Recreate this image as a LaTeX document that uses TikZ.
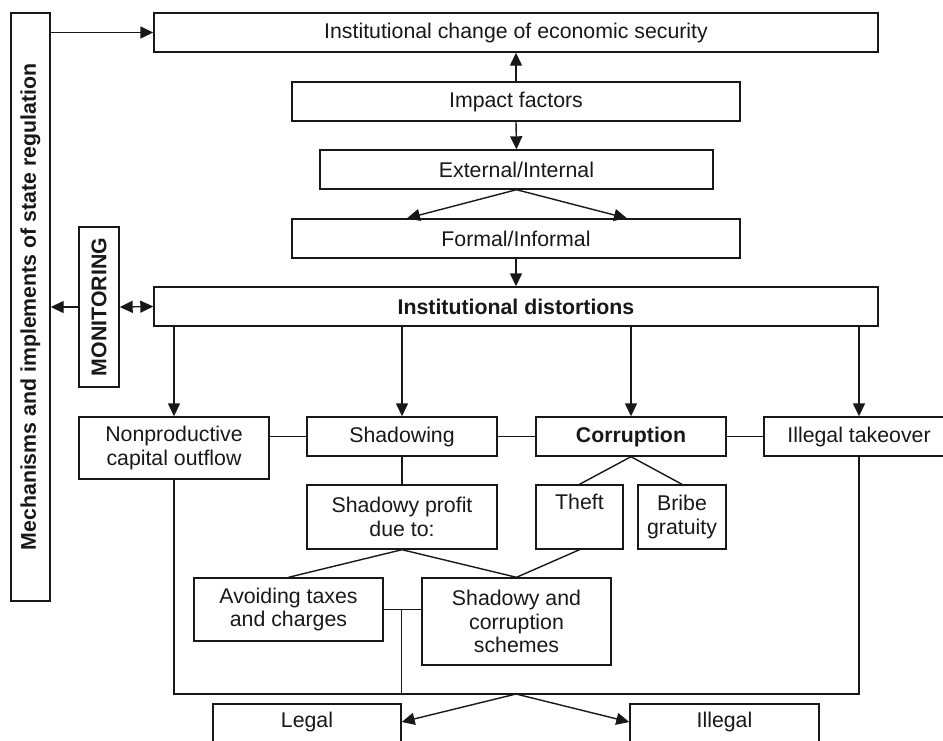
\documentclass[tikz,border=0pt]{standalone}
\usepackage{fontspec}
\setmainfont{Liberation Sans}
\usetikzlibrary{arrows.meta,calc}
\definecolor{ink}{HTML}{1A1718}
\begin{document}
\begin{tikzpicture}[x=1pt,y=-1pt,
  every node/.style={font=\fontsize{21.3}{23.5}\selectfont, text=ink},
  bx/.style={draw=ink, line width=1.4pt, inner sep=0pt, align=center},
  ln/.style={draw=ink, line width=1.4pt},
  tip/.tip={Triangle[length=13pt,width=12pt]},
  arr/.style={ln, -tip},
  darr/.style={ln, tip-tip}]
\useasboundingbox (0,0) rectangle (943,740);
\clip (0,0) rectangle (943,740);
% boxes
\node[bx, rotate=90, minimum width=588, minimum height=39, font=\fontsize{21.3}{23.5}\selectfont\bfseries] (mech) at (30.5,307) {Mechanisms and implements of state regulation};
\node[bx, minimum width=724, minimum height=39] (top) at (516,32.5) {Institutional change of economic security};
\node[bx, minimum width=448, minimum height=39] (impact) at (516,101.5) {Impact factors};
\node[bx, minimum width=393, minimum height=39] (ext) at (516.5,169.5) {External/Internal};
\node[bx, minimum width=448, minimum height=39] (formal) at (516,238.5) {Formal/Informal};
\node[bx, minimum width=724, minimum height=39, font=\fontsize{21.3}{23.5}\selectfont\bfseries] (dist) at (516,306.5) {Institutional distortions};
\node[bx, rotate=90, minimum width=160, minimum height=40, font=\fontsize{21.3}{23.5}\selectfont\bfseries] (mon) at (99,307) {MONITORING};
\node[bx, minimum width=190, minimum height=62] (nonprod) at (174,448) {Nonproductive\\capital outflow};
\node[bx, minimum width=190, minimum height=39] (shad) at (402,436.5) {Shadowing};
\node[bx, minimum width=190, minimum height=39, font=\fontsize{21.3}{23.5}\selectfont\bfseries] (corr) at (631,436.5) {Corruption};
\node[bx, minimum width=190, minimum height=39] (take) at (859,436.5) {Illegal takeover};
\node[bx, minimum width=190, minimum height=64] (profit) at (402,517) {Shadowy profit\\due to:};
\node[bx, minimum width=87, minimum height=64] (theft) at (579.5,517) {Theft\\\strut};
\node[bx, minimum width=88, minimum height=64] (bribe) at (682,517) {Bribe\\gratuity};
\node[bx, minimum width=189, minimum height=63] (avoid) at (288.5,609.5) {Avoiding taxes\\and charges};
\node[bx, minimum width=189, minimum height=87] (schemes) at (516.5,621.5) {Shadowy and\\corruption\\schemes};
\node[bx, minimum width=188, minimum height=62] (legal) at (307,735) {Legal\\\strut};
\node[bx, minimum width=189, minimum height=62] (illegal) at (724.5,735) {Illegal\\\strut};
% junction coordinates
\coordinate (jl) at (174,694);
\coordinate (jr) at (859,694);
\coordinate (jm) at (516,694);
\coordinate (jv) at (401.5,610);
% connectors
\draw[arr] (mech.south |- top.west) -- (top.west);
\draw[arr] (impact.north) -- (top.south);
\draw[arr] (impact.south) -- (ext.north);
\draw[arr] (ext.south) -- ([xshift=-109pt]formal.north);
\draw[arr] (ext.south) -- ([xshift=111pt]formal.north);
\draw[arr] (formal.south) -- (dist.north);
\draw[arr] (mon.north) -- (mech.south);
\draw[darr] (mon.south) -- (dist.west);
\draw[arr] (nonprod.north |- dist.south) -- (nonprod.north);
\draw[arr] (shad.north |- dist.south) -- (shad.north);
\draw[arr] (corr.north |- dist.south) -- (corr.north);
\draw[arr] (take.north |- dist.south) -- (take.north);
\draw[ln] (shad.west -| nonprod.east) -- (shad.west);
\draw[ln] (shad.east) -- (corr.west);
\draw[ln] (corr.east) -- (take.west);
\draw[ln] (shad.south) -- (profit.north);
\draw[ln] (corr.south) -- (theft.north);
\draw[ln] (corr.south) -- (bribe.north);
\draw[ln] (profit.south) -- (avoid.north);
\draw[ln] (profit.south) -- (schemes.north);
\draw[ln] (theft.south) -- (schemes.north);
\draw[ln] (avoid.east) -- (avoid.east -| schemes.west);
\draw[ln] (jv) -- (jv |- jl);
\draw[ln] (nonprod.south) -- (jl) -- (jr) -- (take.south);
\draw[arr] (jm) -- ([yshift=13pt]legal.east);
\draw[arr] (jm) -- ([yshift=13pt]illegal.west);
\end{tikzpicture}
\end{document}
